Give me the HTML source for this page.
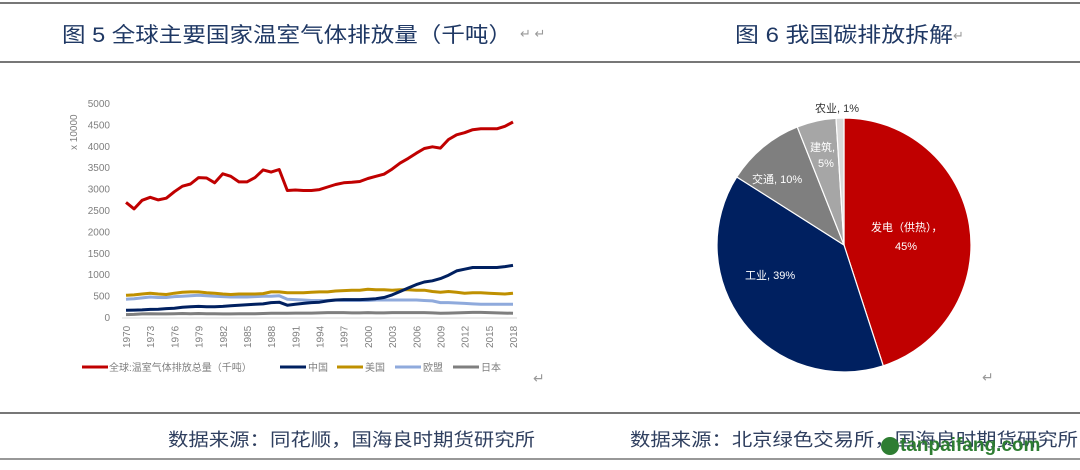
<!DOCTYPE html>
<html><head><meta charset="utf-8"><style>
body{margin:0;background:#fff;width:1080px;height:465px;overflow:hidden;font-family:"Liberation Sans","Noto Sans CJK SC",sans-serif}
</style></head><body>
<svg id="s" width="1080" height="465" xmlns="http://www.w3.org/2000/svg" font-family="Liberation Sans, Noto Sans CJK SC, sans-serif">
<line x1="0" y1="3" x2="1080" y2="3" stroke="#777" stroke-width="2"/>
<line x1="0" y1="62" x2="1080" y2="62" stroke="#777" stroke-width="2"/>
<line x1="0" y1="413" x2="1080" y2="413" stroke="#777" stroke-width="2"/>
<line x1="0" y1="459" x2="1080" y2="459" stroke="#777" stroke-width="1.5"/>
<text x="62" y="42" font-size="21" fill="#1f3864" textLength="450" lengthAdjust="spacingAndGlyphs">图 5 全球主要国家温室气体排放量（千吨）</text>
<text x="520" y="38" font-size="13" fill="#999">↵ ↵</text>
<text x="735" y="42" font-size="21" fill="#1f3864" textLength="218" lengthAdjust="spacingAndGlyphs">图 6 我国碳排放拆解</text>
<text x="953" y="40" font-size="13" fill="#999">↵</text>
<text x="168" y="446" font-size="18" fill="#2f3f5f" textLength="367" lengthAdjust="spacingAndGlyphs">数据来源：同花顺，国海良时期货研究所</text>
<text x="630" y="446" font-size="18" fill="#2f3f5f" textLength="448" lengthAdjust="spacingAndGlyphs">数据来源：北京绿色交易所，国海良时期货研究所</text>
<text x="900" y="451" font-size="19" font-weight="bold" fill="#2e7d32">tanpaifang.com</text>
<circle cx="890" cy="446" r="9" fill="#2e7d32"/>
<g id="ax" font-size="10" fill="#7f7f7f"></g>
<text transform="translate(77,150) rotate(-90)" font-size="10" fill="#7f7f7f">x 10000</text>
<g id="ln"></g>
<g font-size="10" fill="#7f7f7f">
<line x1="82" y1="367" x2="108" y2="367" stroke="#c00000" stroke-width="3"/><text x="109" y="371">全球:温室气体排放总量（千吨）</text>
<line x1="280" y1="367" x2="306" y2="367" stroke="#002060" stroke-width="3"/><text x="308" y="371">中国</text>
<line x1="337" y1="367" x2="363" y2="367" stroke="#bf9000" stroke-width="3"/><text x="365" y="371">美国</text>
<line x1="395" y1="367" x2="421" y2="367" stroke="#8faadc" stroke-width="3"/><text x="423" y="371">欧盟</text>
<line x1="453" y1="367" x2="479" y2="367" stroke="#7f7f7f" stroke-width="3"/><text x="481" y="371">日本</text>
</g>
<text x="533" y="383" font-size="14" fill="#999">↵</text>
<g id="pie"></g>
<g font-size="11" fill="#fff">
<text x="871" y="231">发电（供热），</text>
<text x="895" y="250">45%</text>
<text x="745" y="279">工业, 39%</text>
<text x="752" y="183">交通, 10%</text>
<text x="810" y="151">建筑,</text>
<text x="818" y="167">5%</text>
<text x="815" y="112" fill="#333">农业, 1%</text>
</g>
<text x="982" y="382" font-size="14" fill="#999">↵</text>
</svg>
<script>
const NS="http://www.w3.org/2000/svg";
function el(p,t,a,txt){const e=document.createElementNS(NS,t);for(const k in a)e.setAttribute(k,a[k]);if(txt!=null)e.textContent=txt;p.appendChild(e);return e;}
const ax=document.getElementById('ax'),ln=document.getElementById('ln');
const y0=318,k=42.8/1000,x0=126,dx=(513-126)/48;
for(let v=0;v<=5000;v+=500)el(ax,'text',{x:110,y:y0-v*k+3,'text-anchor':'end'},v);
el(ax,'line',{x1:122,y1:y0,x2:517,y2:y0,stroke:'#d9d9d9'});
for(let yr=1970;yr<=2018;yr+=3){const x=x0+(yr-1970)*dx;el(ax,'text',{transform:`translate(${x+4},${y0+30}) rotate(-90)`},yr);}
const D={
'#7f7f7f':[80,85,95,100,95,95,100,105,100,105,100,100,95,95,100,100,100,105,110,110,110,115,115,115,120,125,125,125,120,120,125,120,120,125,125,125,125,125,120,110,115,120,125,130,130,125,120,115,110],
'#8faadc':[440,450,470,490,480,480,500,510,520,530,520,510,500,490,490,490,500,510,510,520,440,430,420,410,410,410,420,410,410,410,410,420,420,420,420,420,420,410,400,360,360,350,340,330,320,320,320,320,320],
'#bf9000':[530,540,560,580,560,550,580,600,610,610,590,580,560,550,560,560,560,570,610,610,590,590,590,600,610,610,630,640,650,650,670,660,660,650,660,660,650,650,620,600,620,600,580,590,590,580,570,560,580],
'#002060':[180,185,190,200,205,220,230,250,265,270,265,265,270,285,300,310,320,330,360,370,300,320,340,360,370,400,420,430,430,430,440,450,480,540,620,700,780,840,870,920,1000,1100,1140,1180,1180,1180,1180,1200,1230],
'#c00000':[2700,2550,2750,2820,2760,2800,2950,3080,3130,3280,3270,3160,3370,3310,3180,3180,3280,3460,3410,3470,2980,2990,2980,2980,3000,3060,3120,3160,3170,3190,3260,3310,3360,3480,3620,3730,3850,3960,4000,3970,4170,4280,4330,4400,4420,4420,4420,4480,4580]};
for(const c in D){el(ln,'polyline',{points:D[c].map((v,i)=>(x0+i*dx).toFixed(1)+','+(y0-v*k).toFixed(1)).join(' '),fill:'none',stroke:c,'stroke-width':3,'stroke-linejoin':'round'});}
const pie=document.getElementById('pie'),cx=844,cy=245,r=127;
const S=[[45,'#c00000'],[39,'#002060'],[10,'#7f7f7f'],[5,'#a6a6a6'],[1,'#d9d9d9']];let a=0;
for(const [p,c] of S){const b=a+p*3.6;const f=t=>[cx+r*Math.sin(t*Math.PI/180),cy-r*Math.cos(t*Math.PI/180)];const[p1x,p1y]=f(a),[p2x,p2y]=f(b);
el(pie,'path',{d:`M${cx},${cy}L${p1x},${p1y}A${r},${r} 0 ${p>50?1:0} 1 ${p2x},${p2y}Z`,fill:c,stroke:'#fff','stroke-width':1.2});a=b;}
</script>
</body></html>
